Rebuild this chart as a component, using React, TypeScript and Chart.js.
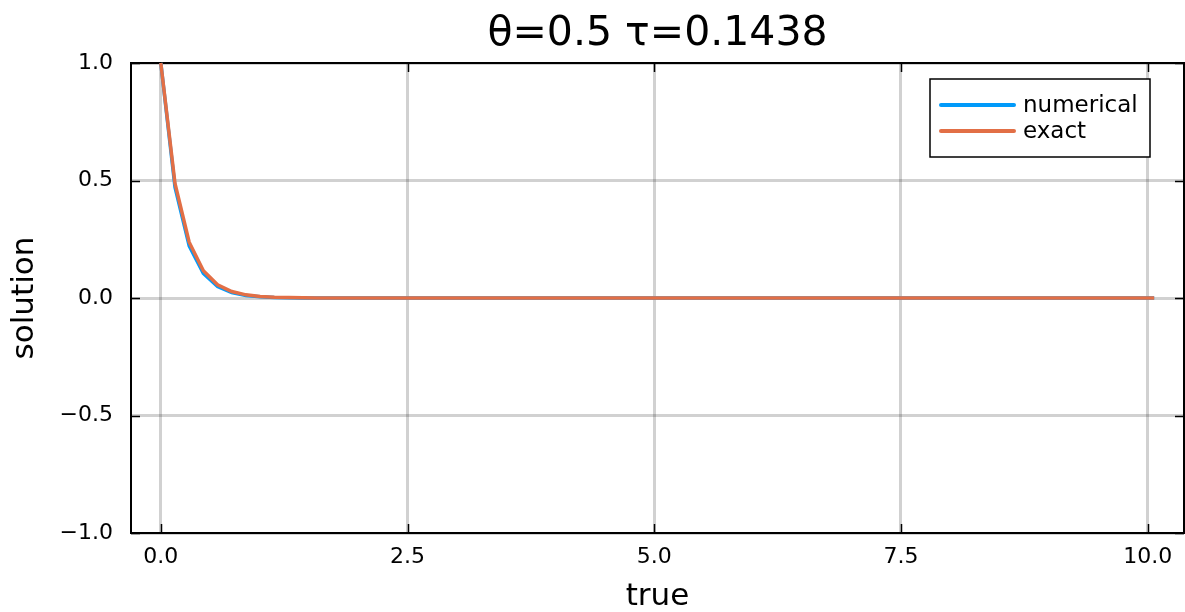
import React, { useEffect, useRef } from "react";
import { Chart, registerables } from "chart.js";

Chart.register(...registerables);

const TITLE = "θ=0.5 τ=0.1438";
const X_LABEL = "true";
const Y_LABEL = "solution";

const timeValues = [
  0, 0.1438, 0.2876, 0.4314, 0.5752, 0.719, 0.8628, 1.0066, 1.1504, 1.2942,
  1.438, 1.5818, 1.7256, 1.8694, 2.0132, 2.157, 2.3008, 2.4446, 2.5884, 2.7322,
  2.876, 3.0198, 3.1636, 3.3074, 3.4512, 3.595, 3.7388, 3.8826, 4.0264, 4.1702,
  4.314, 4.4578, 4.6016, 4.7454, 4.8892, 5.033, 5.1768, 5.3206, 5.4644, 5.6082,
  5.752, 5.8958, 6.0396, 6.1834, 6.3272, 6.471, 6.6148, 6.7586, 6.9024, 7.0462,
  7.19, 7.3338, 7.4776, 7.6214, 7.7652, 7.909, 8.0528, 8.1966, 8.3404, 8.4842,
  8.628, 8.7718, 8.9156, 9.0594, 9.2032, 9.347, 9.4908, 9.6346, 9.7784, 9.9222,
  10.066,
];

const numericalValues = [
  1, 0.4711, 0.222, 0.1046, 0.0493, 0.0232, 0.0109, 0.0052, 0.0024, 0.0011,
  0.0005, 0.0003, 0.0001, 0.0001, 0, 0, 0, 0, 0, 0,
  0, 0, 0, 0, 0, 0, 0, 0, 0, 0,
  0, 0, 0, 0, 0, 0, 0, 0, 0, 0,
  0, 0, 0, 0, 0, 0, 0, 0, 0, 0,
  0, 0, 0, 0, 0, 0, 0, 0, 0, 0,
  0, 0, 0, 0, 0, 0, 0, 0, 0, 0,
  0,
];

const exactValues = [
  1, 0.4872, 0.2374, 0.1157, 0.0564, 0.0275, 0.0134, 0.0065, 0.0032, 0.0016,
  0.0008, 0.0004, 0.0002, 0.0001, 0, 0, 0, 0, 0, 0,
  0, 0, 0, 0, 0, 0, 0, 0, 0, 0,
  0, 0, 0, 0, 0, 0, 0, 0, 0, 0,
  0, 0, 0, 0, 0, 0, 0, 0, 0, 0,
  0, 0, 0, 0, 0, 0, 0, 0, 0, 0,
  0, 0, 0, 0, 0, 0, 0, 0, 0, 0,
  0,
];

const seriesLabels = ["numerical", "exact"];
const seriesColors = ["#009AFA", "#E26F46"];

const xTicks = [0, 2.5, 5, 7.5, 10];
const yTicks = [-1, -0.5, 0, 0.5, 1];
const X_MIN = -0.302;
const X_MAX = 10.368;
const Y_MIN = -1;
const Y_MAX = 1;

const FONT = "'DejaVu Sans', sans-serif";

const fmt = (v: number) => v.toFixed(1).replace("-", "\u2212");

const framePlugin = {
  id: "frameTicks",
  beforeDatasetsDraw(chart: any) {
    const { ctx, chartArea, scales } = chart;
    const { left, right, top, bottom } = chartArea;
    ctx.save();
    ctx.strokeStyle = "#000";
    ctx.lineWidth = 1.5;
    const tl = 9;
    ctx.beginPath();
    for (const v of xTicks) {
      const px = Math.round(scales.x.getPixelForValue(v)) + 0.5;
      ctx.moveTo(px, bottom);
      ctx.lineTo(px, bottom - tl);
      ctx.moveTo(px, top);
      ctx.lineTo(px, top + tl);
    }
    for (const v of yTicks) {
      const py = Math.round(scales.y.getPixelForValue(v)) + 0.5;
      ctx.moveTo(left, py);
      ctx.lineTo(left + tl, py);
      ctx.moveTo(right, py);
      ctx.lineTo(right - tl, py);
    }
    ctx.stroke();
    ctx.lineWidth = 2;
    ctx.strokeRect(left, top, right - left, bottom - top);
    ctx.restore();
  },
  afterDraw(chart: any) {
    const { ctx, chartArea } = chart;
    ctx.save();
    // title centred over the plot area
    ctx.fillStyle = "#000";
    ctx.font = `41px ${FONT}`;
    ctx.textAlign = "center";
    ctx.textBaseline = "alphabetic";
    ctx.fillText(TITLE, (chartArea.left + chartArea.right) / 2, 45);

    // legend
    const bw = 220;
    const bh = 78;
    const bx = chartArea.right - 34 - bw;
    const by = chartArea.top + 16;
    ctx.fillStyle = "#fff";
    ctx.fillRect(bx, by, bw, bh);
    ctx.strokeStyle = "#000";
    ctx.lineWidth = 1.5;
    ctx.strokeRect(bx, by, bw, bh);
    ctx.font = `23px ${FONT}`;
    ctx.textBaseline = "middle";
    ctx.textAlign = "left";
    chart.data.datasets.forEach((ds: any, i: number) => {
      const y = by + 26 + i * 26;
      ctx.strokeStyle = ds.borderColor;
      ctx.lineWidth = 4;
      ctx.lineCap = "round";
      ctx.beginPath();
      ctx.moveTo(bx + 11, y);
      ctx.lineTo(bx + 84, y);
      ctx.stroke();
      ctx.fillStyle = "#000";
      ctx.fillText(ds.label, bx + 93, y + 1);
    });
    ctx.restore();
  },
};

export default function App() {
  const canvasRef = useRef<HTMLCanvasElement | null>(null);

  useEffect(() => {
    document.body.style.margin = "0";
    const canvas = canvasRef.current;
    if (!canvas) return;
    const datasets = [numericalValues, exactValues].map((vals, i) => ({
      label: seriesLabels[i],
      data: timeValues.map((t, j) => ({ x: t, y: vals[j] })),
      borderColor: seriesColors[i],
      backgroundColor: seriesColors[i],
      borderWidth: 3.5,
      pointRadius: 0,
      tension: 0,
      fill: false,
      clip: 4,
      order: i === 0 ? 1 : 0,
    }));
    const chart = new Chart(canvas, {
      type: "line",
      data: { datasets },
      plugins: [framePlugin],
      options: {
        animation: false,
        responsive: false,
        maintainAspectRatio: false,
        layout: { padding: { top: 63, right: 1, left: 0, bottom: 0 } },
        plugins: {
          legend: { display: false },
          tooltip: { enabled: false },
          title: { display: false },
        },
        scales: {
          x: {
            type: "linear",
            min: X_MIN,
            max: X_MAX,
            afterBuildTicks: (s: any) => {
              s.ticks = xTicks.map((v) => ({ value: v }));
            },
            afterFit: (s: any) => {
              s.height = 79;
            },
            grid: { color: "rgba(0,0,0,0.18)", lineWidth: 3, drawTicks: false },
            border: { display: false },
            ticks: {
              color: "#000",
              padding: 11,
              maxRotation: 0,
              font: { family: FONT, size: 22 },
              callback: (v: any) => fmt(Number(v)),
            },
            title: {
              display: true,
              text: X_LABEL,
              color: "#000",
              font: { family: FONT, size: 31, lineHeight: 1.2 },
              padding: { top: 0, bottom: -4 },
            },
          },
          y: {
            type: "linear",
            min: Y_MIN,
            max: Y_MAX,
            afterBuildTicks: (s: any) => {
              s.ticks = yTicks.map((v) => ({ value: v }));
            },
            afterFit: (s: any) => {
              s.width = 131;
            },
            grid: { color: "rgba(0,0,0,0.18)", lineWidth: 3, drawTicks: false },
            border: { display: false },
            ticks: {
              color: "#000",
              padding: 18,
              font: { family: FONT, size: 22 },
              callback: (v: any) => fmt(Number(v)),
            },
            title: {
              display: true,
              text: Y_LABEL,
              color: "#000",
              font: { family: FONT, size: 31, lineHeight: 1.2 },
              padding: { top: 6, bottom: 0 },
            },
          },
        },
      },
    } as any);
    return () => chart.destroy();
  }, []);

  return (
    <div style={{ width: 1185, height: 612 }}>
      <canvas ref={canvasRef} width={1185} height={612} style={{ display: "block" }} />
    </div>
  );
}
